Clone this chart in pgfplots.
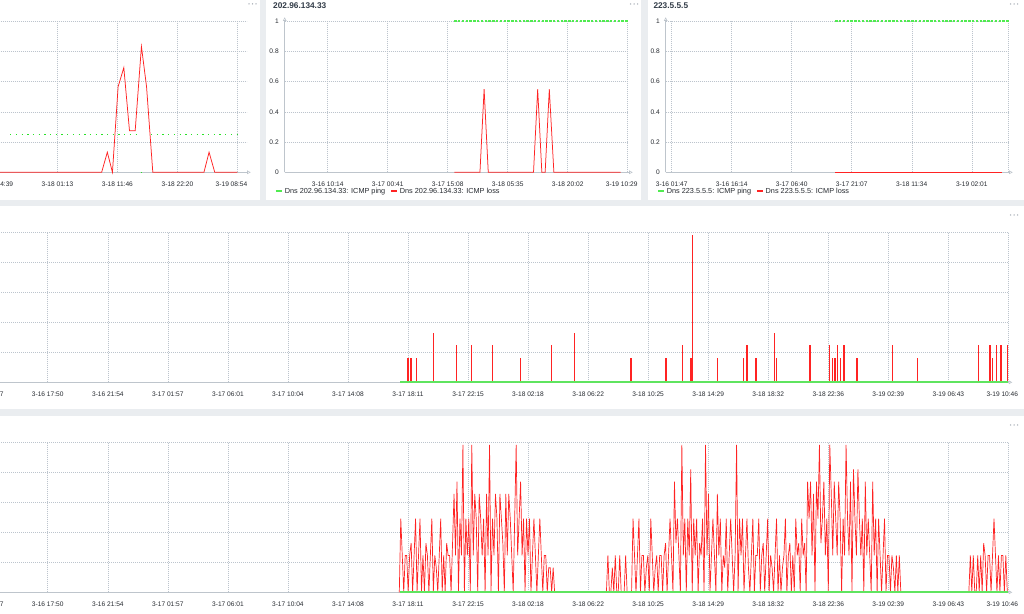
\documentclass[border=0pt]{standalone}
\usepackage{fontspec}
\setmainfont{Liberation Sans}
\usepackage{pgfplots}
\pgfplotsset{compat=1.18}
\usetikzlibrary{arrows.meta}

\definecolor{bg}{RGB}{234,237,240}
\definecolor{gridc}{RGB}{188,196,205}
\definecolor{axc}{RGB}{190,197,204}
\definecolor{lossred}{RGB}{255,35,35}
\definecolor{pinggreen}{RGB}{40,225,40}
\definecolor{lightgreen}{RGB}{80,235,80}
\definecolor{basegreen}{RGB}{95,228,95}
\definecolor{txt}{RGB}{38,42,48}
\definecolor{ttl}{RGB}{50,60,72}
\definecolor{dotc}{RGB}{165,172,180}

\pgfplotsset{
  zbx/.style={
    scale only axis, anchor=south west, clip=false,
    axis lines=left,
    every outer x axis line/.append style={draw=axc, line width=0.6pt, shorten >=-4pt, -{Triangle[open,length=3.5pt,width=3.5pt]}},
    every outer y axis line/.append style={draw=axc, line width=0.6pt, shorten >=-4pt, -{Triangle[open,length=3.5pt,width=3.5pt]}},
    xmajorgrids, ymajorgrids,
    major grid style={draw=gridc, line width=0.5pt, dash pattern=on 0.9pt off 1.1pt},
    tick style={draw=none},
    tick label style={font=\fontsize{6.6}{8}\selectfont, text=txt},
    xticklabel style={inner sep=0pt, anchor=north, yshift=-7pt},
    yticklabel style={inner sep=0pt, anchor=east, xshift=-3.7pt},
    /pgf/number format/assume math mode=true,
    legend cell align=left,
    legend image code/.code={\draw[#1, solid, line width=2.2pt] (0pt,0pt) -- (5.7pt,0pt);},
  },
  zleg/.style={
    legend style={at={(#1)}, anchor=west, draw=none, fill=none, inner sep=0pt,
      legend columns=-1, font=\fontsize{7.3}{8.7}\selectfont, text=txt,
      nodes={inner sep=0pt},
      /tikz/every odd column/.append style={column sep=2pt},
      /tikz/every even column/.append style={column sep=4.7pt}},
  },
}

\begin{document}
\begin{tikzpicture}[x=1pt,y=1pt]
\path[use as bounding box] (0pt,0pt) rectangle (1024pt,613pt);
\clip (0pt,0pt) rectangle (1024pt,613pt);
\fill[bg] (-10pt,-10pt) rectangle (1040pt,625pt);
% panels
\fill[white] (-5pt,413pt) rectangle (260pt,620pt);
\fill[white] (266pt,413pt) rectangle (641pt,620pt);
\fill[white] (648pt,413pt) rectangle (1030pt,620pt);
\fill[white] (-5pt,204pt) rectangle (1030pt,407pt);
\fill[white] (-5pt,-5pt) rectangle (1030pt,196.5pt);
% menu dots
\foreach \px/\py in {249/609, 630.5/609, 1010.5/609, 1010.5/398, 1010.5/188}{
  \foreach \d in {0,3.5,7}{\fill[dotc] (\px pt+\d pt,\py pt) circle (0.75pt);}
}
% titles
\node[anchor=west, inner sep=0pt, font=\bfseries\fontsize{8.3}{10}\selectfont, text=ttl] at (273pt,607.2pt) {202.96.134.33};
\node[anchor=west, inner sep=0pt, font=\bfseries\fontsize{8.3}{10}\selectfont, text=ttl] at (653.3pt,607.2pt) {223.5.5.5};

% ---------- panel 1 (partly cut) ----------
\begin{axis}[zbx, at={(-97.3pt,440.7pt)}, width=344pt, height=151pt,
  xmin=22.0, xmax=82.52, ymin=0, ymax=1,
  ytick={0,0.2,0.4,0.6,0.8,1},
  xtick={38.65,49.217,59.767,70.333},
  xticklabels={3-17 14:39,3-18 01:13,3-18 11:46,3-18 22:20},
  extra x ticks={80.9}, extra x tick labels={3-19 08:54},
  extra x tick style={grid=major, xticklabel style={xshift=-6pt}},
  unbounded coords=jump]
\addplot[pinggreen, line width=1.3pt, dash pattern=on 1.3pt off 4.4pt] coordinates {
 (40.9,0.25) (63.2,0.25) (63.3,nan) (63.9,0) (64.9,0) (65.0,nan) (65.7,0.25) (80.9,0.25)};
\addplot[lossred, line width=0.75pt] coordinates {
 (39.0,0) (57.0,0) (58.0,0.133) (58.9,0) (59.9,0.567) (60.9,0.693) (61.9,0.275)
 (62.9,0.275) (64.0,0.833) (64.9,0.567) (66.0,0) (75.0,0) (75.9,0.133) (76.9,0) (80.9,0)};
\end{axis}

% ---------- panel 2 ----------
\begin{axis}[zbx, zleg={-0.0291,-0.1258}, at={(284.7pt,440.7pt)}, width=344pt, height=151pt,
  xmin=-0.12, xmax=82.72, ymin=0, ymax=1,
  ytick={0,0.2,0.4,0.6,0.8,1},
  xtick={10.233,24.683,39.133,53.583,68.033},
  xticklabels={3-16 10:14,3-17 00:41,3-17 15:08,3-18 05:35,3-18 20:02},
  extra x ticks={82.483}, extra x tick labels={3-19 10:29},
  extra x tick style={grid=major, xticklabel style={xshift=-6pt}}]
\addplot[lightgreen, line width=1.6pt, dash pattern=on 2.4pt off 1.4pt] coordinates {(40.72,1) (82.72,1)};
\addlegendentry{Dns 202.96.134.33: ICMP ping}
\addplot[lossred, line width=0.75pt] coordinates {
 (40.72,0) (46.9,0) (47.9,0.55) (48.9,0) (59.8,0) (60.8,0.55) (61.8,0)
 (62.6,0) (63.6,0.55) (64.7,0) (80.8,0)};
\addlegendentry{Dns 202.96.134.33: ICMP loss}
\end{axis}

% ---------- panel 3 ----------
\begin{axis}[zbx, zleg={-0.0262,-0.1258}, at={(665.7pt,440.7pt)}, width=343pt, height=151pt,
  xmin=0.338, xmax=82.9, ymin=0, ymax=1,
  ytick={0,0.2,0.4,0.6,0.8,1},
  xtick={1.783,16.233,30.667,45.117,59.567,74.017},
  xticklabels={3-16 01:47,3-16 16:14,3-17 06:40,3-17 21:07,3-18 11:34,3-19 02:01},
  extra x ticks={82.9}, extra x tick labels={},
  extra x tick style={grid=major}]
\addplot[lightgreen, line width=1.6pt, dash pattern=on 2.4pt off 1.4pt] coordinates {(41.11,1) (82.9,1)};
\addlegendentry{Dns 223.5.5.5: ICMP ping}
\addplot[lossred, line width=0.75pt] coordinates {(41.11,0) (81.26,0)};
\addlegendentry{Dns 223.5.5.5: ICMP loss}
\end{axis}

% ---------- middle panel ----------
\begin{axis}[zbx, at={(-56.83pt,230.7pt)}, width=1065.13pt, height=150pt,
  xmin=10.767, xmax=82.767, ymin=0, ymax=12.2,
  ytick={0,2.44,4.88,7.32,9.76,12.2}, yticklabels={},
  xtick={13.783,17.833,21.9,25.95,30.017,34.067,38.133,42.183,46.25,50.3,54.367,58.417,62.483,66.533,70.6,74.65,78.717},
  xticklabels={3-16 13:47,3-16 17:50,3-16 21:54,3-17 01:57,3-17 06:01,3-17 10:04,3-17 14:08,3-17 18:11,3-17 22:15,3-18 02:18,3-18 06:22,3-18 10:25,3-18 14:29,3-18 18:32,3-18 22:36,3-19 02:39,3-19 06:43},
  extra x ticks={82.767}, extra x tick labels={3-19 10:46},
  extra x tick style={grid=major, xticklabel style={xshift=-6pt}}]
\addplot[lossred, ycomb, line width=1.1pt] coordinates {
 (42.19,2) (42.39,2) (42.78,2) (43.93,4) (45.48,3) (46.51,3) (47.87,3) (49.81,2)
 (51.86,3) (53.43,4) (57.20,2) (57.26,2) (59.62,2) (59.68,2) (60.76,3) (61.32,2)
 (61.39,12) (63.12,2) (64.85,2) (65.10,3) (65.71,2) (66.98,4) (67.11,2) (69.36,3)
 (70.69,3) (70.90,2) (71.05,2) (71.23,3) (71.44,2) (71.66,3) (72.50,2) (72.58,2)
 (74.93,3) (76.60,2) (80.74,3) (81.53,3) (81.69,2) (81.96,3) (82.27,3) (82.73,3)};
\addplot[basegreen, line width=2pt] coordinates {(41.65,0) (82.75,0)};
\end{axis}

% ---------- bottom panel ----------
\begin{axis}[zbx, at={(-56.83pt,20.7pt)}, width=1065.13pt, height=150pt,
  xmin=10.767, xmax=82.767, ymin=0, ymax=12.2,
  ytick={0,2.44,4.88,7.32,9.76,12.2}, yticklabels={},
  xtick={13.783,17.833,21.9,25.95,30.017,34.067,38.133,42.183,46.25,50.3,54.367,58.417,62.483,66.533,70.6,74.65,78.717},
  xticklabels={3-16 13:47,3-16 17:50,3-16 21:54,3-17 01:57,3-17 06:01,3-17 10:04,3-17 14:08,3-17 18:11,3-17 22:15,3-18 02:18,3-18 06:22,3-18 10:25,3-18 14:29,3-18 18:32,3-18 22:36,3-19 02:39,3-19 06:43},
  extra x ticks={82.767}, extra x tick labels={3-19 10:46},
  extra x tick style={grid=major, xticklabel style={xshift=-6pt}}]
\addplot[lossred, line width=0.7pt] coordinates {
 (41.6,0) (41.7,6) (41.8,3) (41.9,0) (42.0,3) (42.1,3) (42.2,0) (42.3,3) (42.4,4) (42.5,0)
 (42.6,3) (42.7,6) (42.8,0) (42.9,3) (43.0,6) (43.1,0) (43.2,3) (43.3,0) (43.4,4) (43.5,3)
 (43.6,0) (43.7,3) (43.8,6) (43.9,0) (44.0,3) (44.1,2) (44.2,0) (44.3,3) (44.4,6) (44.5,0)
 (44.6,3) (44.7,0) (44.8,4) (44.9,3) (45.0,3) (45.1,0) (45.2,4) (45.3,8) (45.4,3) (45.5,9)
 (45.6,0) (45.7,6) (45.8,3) (45.9,12) (46.0,0) (46.1,6) (46.2,3) (46.3,6) (46.4,0) (46.5,12)
 (46.6,3) (46.7,8) (46.8,6) (46.9,0) (47.0,8) (47.1,6) (47.2,3) (47.3,6) (47.4,0) (47.5,8)
 (47.6,3) (47.7,12) (47.8,0) (47.9,6) (48.0,3) (48.1,8) (48.2,6) (48.3,0) (48.4,8) (48.5,6)
 (48.6,4) (48.7,0) (48.8,8) (48.9,3) (49.0,8) (49.1,6) (49.2,3) (49.3,0) (49.4,6) (49.5,12)
 (49.6,3) (49.7,6) (49.8,9) (49.9,3) (50.0,6) (50.1,0) (50.2,6) (50.3,3) (50.4,6) (50.5,0)
 (50.6,3) (50.7,6) (50.8,3) (50.9,0) (51.0,3) (51.1,6) (51.2,3) (51.3,0) (51.4,3) (51.5,3)
 (51.6,0) (51.7,2) (51.8,2) (51.9,0) (52.0,2) (52.1,0)
 (55.6,0) (55.7,3) (55.8,0) (55.9,0) (56.0,2) (56.1,0) (56.2,3) (56.3,0) (56.4,0) (56.5,3)
 (56.6,0) (56.7,0) (56.8,0) (56.9,3) (57.0,0) (57.1,0) (57.2,0) (57.3,0) (57.4,6) (57.5,3)
 (57.6,0) (57.7,3) (57.8,6) (57.9,0) (58.0,3) (58.1,3) (58.2,0) (58.3,2) (58.4,3) (58.5,0)
 (58.6,6) (58.7,3) (58.8,0) (58.9,2) (59.0,3) (59.1,0) (59.2,3) (59.3,3) (59.4,0) (59.5,3)
 (59.6,4) (59.7,0) (59.8,3) (59.9,6) (60.0,3) (60.1,0) (60.2,9) (60.3,4) (60.4,6) (60.5,3)
 (60.6,0) (60.7,12) (60.8,3) (60.9,6) (61.0,0) (61.1,6) (61.2,3) (61.3,10) (61.4,0) (61.5,6)
 (61.6,3) (61.7,6) (61.8,0) (61.9,4) (62.0,3) (62.1,6) (62.2,0) (62.3,12) (62.4,3) (62.5,8)
 (62.6,0) (62.7,3) (62.8,6) (62.9,3) (63.0,0) (63.1,8) (63.2,3) (63.3,6) (63.4,0) (63.5,3)
 (63.6,2) (63.7,6) (63.8,0) (63.9,3) (64.0,6) (64.1,3) (64.2,0) (64.3,3) (64.4,12) (64.5,0)
 (64.6,6) (64.7,3) (64.8,6) (64.9,0) (65.0,3) (65.1,6) (65.2,2) (65.3,0) (65.4,3) (65.5,6)
 (65.6,0) (65.7,3) (65.8,3) (65.9,6) (66.0,0) (66.1,3) (66.2,4) (66.3,0) (66.4,3) (66.5,6)
 (66.6,0) (66.7,3) (66.8,2) (66.9,0) (67.0,3) (67.1,6) (67.2,0) (67.3,3) (67.4,0) (67.5,2)
 (67.6,3) (67.7,6) (67.8,0) (67.9,3) (68.0,4) (68.1,0) (68.2,3) (68.3,0) (68.4,6) (68.5,3)
 (68.6,4) (68.7,0) (68.8,6) (68.9,3) (69.0,4) (69.1,0) (69.2,9) (69.3,6) (69.4,9) (69.5,3)
 (69.6,8) (69.7,0) (69.8,9) (69.9,6) (70.0,12) (70.1,4) (70.2,6) (70.3,9) (70.4,3) (70.5,6)
 (70.6,0) (70.7,12) (70.8,8) (70.9,3) (71.0,9) (71.1,6) (71.2,3) (71.3,9) (71.4,6) (71.5,0)
 (71.6,6) (71.7,3) (71.8,12) (71.9,6) (72.0,3) (72.1,9) (72.2,0) (72.3,10) (72.4,6) (72.5,3)
 (72.6,10) (72.7,6) (72.8,3) (72.9,6) (73.0,0) (73.1,9) (73.2,3) (73.3,6) (73.4,3) (73.5,0)
 (73.6,9) (73.7,3) (73.8,6) (73.9,0) (74.0,6) (74.1,3) (74.2,0) (74.3,3) (74.4,6) (74.5,0)
 (74.6,3) (74.7,3) (74.8,0) (74.9,3) (75.0,2) (75.1,0) (75.2,3) (75.3,0) (75.4,3) (75.5,0)
 (80.1,0) (80.2,3) (80.3,0) (80.4,3) (80.5,0) (80.6,0) (80.7,3) (80.8,0) (80.9,3) (81.0,0)
 (81.1,4) (81.2,3) (81.3,0) (81.4,3) (81.5,3) (81.6,0) (81.7,3) (81.8,6) (81.9,3) (82.0,0)
 (82.1,3) (82.2,0) (82.3,3) (82.4,3) (82.5,0) (82.6,3) (82.7,0)};
\addplot[basegreen, line width=2pt] coordinates {(41.65,0) (82.75,0)};
\end{axis}
\end{tikzpicture}
\end{document}
